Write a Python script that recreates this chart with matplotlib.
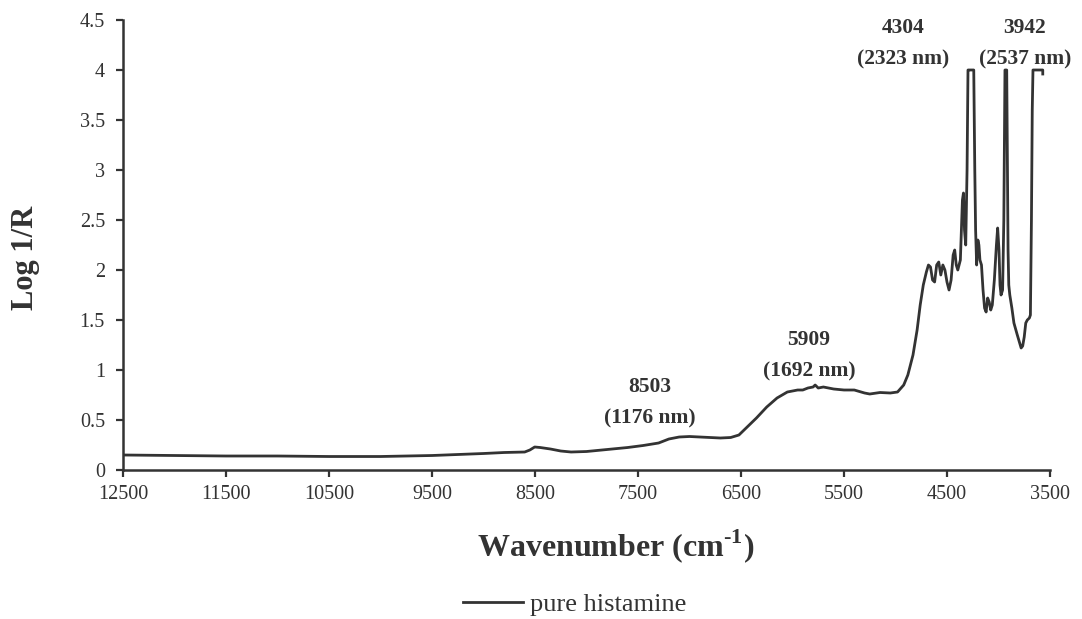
import numpy as np
import matplotlib
matplotlib.use("Agg")
import matplotlib.pyplot as plt

plt.rcParams['font.family'] = ['Liberation Serif', 'DejaVu Serif']
plt.rcParams['mathtext.fontset'] = 'custom'
plt.rcParams['mathtext.rm'] = 'Liberation Serif'
plt.rcParams['mathtext.bf'] = 'Liberation Serif:bold'

# spectrum (wavenumber cm-1, log 1/R)
wavenumber = [12500, 12000, 11500, 11000, 10500, 10000, 9500, 9000, 8800, 8600,
              8550, 8503, 8450, 8350, 8250, 8150, 8000, 7800, 7600, 7450,
              7300, 7200, 7100, 7000, 6900, 6800, 6700, 6600, 6520, 6450,
              6350, 6250, 6150, 6050, 5950, 5900, 5850, 5800, 5780, 5750,
              5700, 5600, 5500, 5400, 5300, 5250, 5150, 5050, 4980, 4920,
              4880, 4830, 4790, 4760, 4730, 4700, 4680, 4660, 4640, 4620,
              4600, 4580, 4560, 4540, 4520, 4500, 4480, 4460, 4440, 4425,
              4410, 4395, 4370, 4350, 4340, 4330, 4318, 4305, 4296, 4280,
              4260, 4240, 4230, 4222, 4212, 4200, 4190, 4180, 4165, 4150,
              4135, 4120, 4105, 4090, 4075, 4060, 4040, 4020, 4008, 3995,
              3985, 3975, 3960, 3948, 3937, 3920, 3907, 3900, 3890, 3870,
              3850, 3820, 3800, 3780, 3765, 3750, 3735, 3720, 3700, 3690,
              3680, 3672, 3665, 3600, 3570, 3570]
log_1_r = [0.15, 0.145, 0.14, 0.14, 0.135, 0.135, 0.145, 0.165, 0.175, 0.18,
           0.20, 0.23, 0.225, 0.21, 0.19, 0.18, 0.185, 0.205, 0.225, 0.245,
           0.27, 0.31, 0.33, 0.335, 0.33, 0.325, 0.32, 0.325, 0.35, 0.42,
           0.52, 0.63, 0.72, 0.78, 0.80, 0.80, 0.82, 0.83, 0.85, 0.82,
           0.83, 0.81, 0.80, 0.80, 0.77, 0.76, 0.775, 0.77, 0.78, 0.85,
           0.95, 1.15, 1.40, 1.65, 1.85, 1.98, 2.05, 2.03, 1.90, 1.88,
           2.05, 2.08, 1.95, 2.05, 2.00, 1.88, 1.80, 1.90, 2.15, 2.20,
           2.05, 2.00, 2.10, 2.70, 2.77, 2.40, 2.25, 3.00, 4.00, 4.00,
           4.00, 4.00, 3.00, 2.40, 2.05, 2.30, 2.25, 2.10, 2.05, 1.80,
           1.62, 1.58, 1.72, 1.68, 1.60, 1.65, 1.90, 2.25, 2.42, 2.20,
           1.85, 1.75, 1.80, 2.50, 4.00, 4.00, 2.20, 1.85, 1.75, 1.62,
           1.47, 1.36, 1.29, 1.22, 1.24, 1.33, 1.47, 1.50, 1.52, 1.55,
           2.50, 3.60, 4.00, 4.00, 4.00, 3.96]

x_ticks = [12500, 11500, 10500, 9500, 8500, 7500, 6500, 5500, 4500, 3500]
y_ticks = [0, 0.5, 1, 1.5, 2, 2.5, 3, 3.5, 4, 4.5]
y_tick_labels = ['0', '0.5', '1', '1.5', '2', '2.5', '3', '3.5', '4', '4.5']

peak_labels = ['8503\n(1176 nm)', '5909\n(1692 nm)', '4304\n(2323 nm)', '3942\n(2537 nm)']
peak_label_x = [7383, 5840, 4927, 3743]
peak_label_y = [0.67, 1.145, 4.265, 4.265]

fig = plt.figure(figsize=(10.82, 6.19), dpi=100)
ax = fig.add_axes([0.1137, 0.2407, 0.8567, 0.727])

line, = ax.plot(wavenumber, log_1_r, color='#333333', linewidth=2.0,
                label='pure histamine')

ax.set_xlim(12500, 3500)
ax.set_ylim(0, 4.5)
ax.set_xticks(x_ticks)
ax.set_xticklabels([str(v) for v in x_ticks])
ax.set_yticks(y_ticks)
ax.set_yticklabels(y_tick_labels)

for side in ['top', 'right']:
    ax.spines[side].set_visible(False)
for side in ['left', 'bottom']:
    ax.spines[side].set_linewidth(1.8)
    ax.spines[side].set_color('#333333')

ax.tick_params(axis='both', direction='out', length=5, width=1.6,
               color='#333333', labelsize=14.5, labelcolor='#333333')
ax.tick_params(axis='x', pad=6)
ax.tick_params(axis='y', pad=8)

for txt, xv, yv in zip(peak_labels, peak_label_x, peak_label_y):
    ax.text(xv, yv, txt, ha='center', va='center', fontsize=15.5,
            fontweight='bold', color='#333333', linespacing=1.75)

# axis titles placed as in the original (x title sits right of centre)
fig.text(25 / 1082, 1 - 258 / 619, 'Log 1/R', rotation=90, fontsize=22,
         fontweight='bold', color='#333333', ha='center', va='center')
fig.text(616 / 1082, 1 - 546 / 619, 'Wavenumber (cm$^{\\mathbf{\u20101}}$)',
         fontsize=23, fontweight='bold', color='#333333',
         ha='center', va='center')

fig.legend(handles=[line], loc='center', bbox_to_anchor=(0.531, 0.024),
           frameon=False, fontsize=19, handlelength=2.3, handletextpad=0.25,
           labelcolor='#333333')

fig.savefig('out.png', dpi=100)
